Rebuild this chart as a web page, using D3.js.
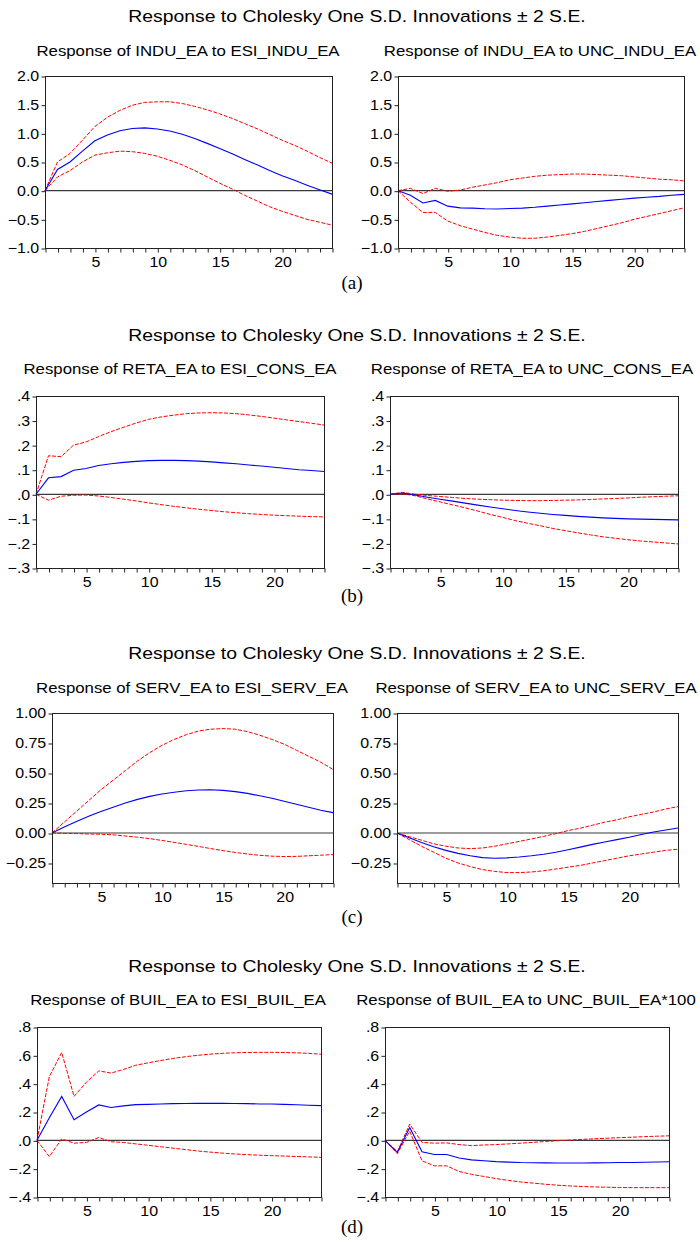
<!DOCTYPE html>
<html><head><meta charset="utf-8">
<script src="https://cdn.jsdelivr.net/npm/d3@7"></script>
<style>body{margin:0;background:#fff}svg{display:block}</style>
</head><body>
<script>
// ---------- DATA ----------
const horizons = d3.range(1, 25);
const xTickLabels = [5, 10, 15, 20];
const mainTitle = "Response to Cholesky One S.D. Innovations \u00b1 2 S.E.";
const captions = ["(a)", "(b)", "(c)", "(d)"];
const subtitles = [
  "Response of INDU_EA to ESI_INDU_EA", "Response of INDU_EA to UNC_INDU_EA",
  "Response of RETA_EA to ESI_CONS_EA", "Response of RETA_EA to UNC_CONS_EA",
  "Response of SERV_EA to ESI_SERV_EA", "Response of SERV_EA to UNC_SERV_EA",
  "Response of BUIL_EA to ESI_BUIL_EA", "Response of BUIL_EA to UNC_BUIL_EA*100"
];
const yTicksA = [-1.0, -0.5, 0.0, 0.5, 1.0, 1.5, 2.0];
const yTicksB = [-0.3, -0.2, -0.1, 0.0, 0.1, 0.2, 0.3, 0.4];
const yTicksC = [-0.25, 0.0, 0.25, 0.5, 0.75, 1.0];
const yTicksD = [-0.4, -0.2, 0.0, 0.2, 0.4, 0.6, 0.8];

// (a) INDU_EA to ESI_INDU_EA
const aL_irf = [0,0.37,0.5,0.69,0.87,0.97,1.045,1.085,1.095,1.075,1.04,0.985,0.91,0.825,0.735,0.645,0.545,0.45,0.35,0.26,0.18,0.095,0.015,-0.06];
const aL_up  = [0,0.5,0.65,0.88,1.12,1.28,1.4,1.49,1.54,1.55,1.55,1.52,1.47,1.41,1.34,1.26,1.17,1.08,0.98,0.88,0.79,0.69,0.58,0.48];
const aL_lo  = [0,0.24,0.35,0.5,0.62,0.66,0.69,0.68,0.65,0.6,0.53,0.45,0.35,0.24,0.13,0.03,-0.08,-0.18,-0.28,-0.36,-0.43,-0.5,-0.55,-0.6];
// (a) INDU_EA to UNC_INDU_EA
const aR_irf = [0,-0.08,-0.215,-0.17,-0.27,-0.3,-0.305,-0.315,-0.32,-0.31,-0.305,-0.29,-0.27,-0.25,-0.23,-0.21,-0.19,-0.17,-0.15,-0.13,-0.115,-0.1,-0.08,-0.065];
const aR_up  = [0,0.04,-0.05,0.04,-0.01,0.01,0.06,0.1,0.14,0.19,0.22,0.25,0.27,0.28,0.29,0.29,0.28,0.27,0.26,0.24,0.22,0.2,0.19,0.17];
const aR_lo  = [0,-0.2,-0.38,-0.38,-0.53,-0.61,-0.67,-0.73,-0.78,-0.81,-0.83,-0.83,-0.81,-0.78,-0.75,-0.71,-0.66,-0.61,-0.56,-0.5,-0.45,-0.4,-0.35,-0.3];
// (b) RETA_EA to ESI_CONS_EA
const bL_irf = [0,0.067,0.072,0.098,0.105,0.117,0.124,0.13,0.134,0.137,0.138,0.138,0.137,0.135,0.132,0.128,0.124,0.119,0.115,0.11,0.105,0.1,0.097,0.093];
const bL_up  = [0,0.157,0.153,0.2,0.213,0.235,0.255,0.273,0.29,0.305,0.315,0.322,0.328,0.331,0.332,0.331,0.328,0.323,0.317,0.31,0.303,0.296,0.289,0.282];
const bL_lo  = [0,-0.024,-0.008,-0.004,-0.003,-0.007,-0.013,-0.02,-0.027,-0.035,-0.042,-0.049,-0.055,-0.061,-0.066,-0.071,-0.075,-0.079,-0.082,-0.085,-0.087,-0.089,-0.091,-0.092];
// (b) RETA_EA to UNC_CONS_EA
const bR_irf = [0,0.005,-0.003,-0.012,-0.02,-0.028,-0.036,-0.044,-0.052,-0.059,-0.066,-0.072,-0.077,-0.082,-0.086,-0.09,-0.093,-0.096,-0.098,-0.1,-0.101,-0.102,-0.103,-0.104];
const bR_up  = [0,0.008,0.0,-0.005,-0.009,-0.013,-0.017,-0.02,-0.022,-0.024,-0.025,-0.026,-0.026,-0.025,-0.024,-0.023,-0.021,-0.019,-0.017,-0.015,-0.012,-0.01,-0.008,-0.006];
const bR_lo  = [0,0.002,-0.006,-0.019,-0.031,-0.043,-0.055,-0.068,-0.082,-0.094,-0.107,-0.118,-0.128,-0.139,-0.148,-0.157,-0.165,-0.173,-0.179,-0.185,-0.19,-0.194,-0.198,-0.202];
// (c) SERV_EA to ESI_SERV_EA
const cL_irf = [0,0.05,0.095,0.14,0.18,0.215,0.25,0.28,0.305,0.325,0.34,0.352,0.358,0.36,0.355,0.345,0.33,0.31,0.29,0.265,0.24,0.215,0.19,0.17];
const cL_up  = [0,0.09,0.18,0.27,0.36,0.44,0.52,0.6,0.67,0.73,0.78,0.82,0.85,0.865,0.87,0.865,0.845,0.815,0.78,0.74,0.69,0.64,0.59,0.53];
const cL_lo  = [0,-0.003,-0.005,-0.008,-0.01,-0.015,-0.025,-0.035,-0.047,-0.062,-0.078,-0.095,-0.112,-0.13,-0.147,-0.162,-0.175,-0.186,-0.193,-0.196,-0.195,-0.19,-0.185,-0.18];
// (c) SERV_EA to UNC_SERV_EA
const cR_irf = [0,-0.04,-0.08,-0.115,-0.145,-0.17,-0.19,-0.205,-0.21,-0.207,-0.2,-0.19,-0.177,-0.16,-0.14,-0.118,-0.095,-0.075,-0.055,-0.035,-0.012,0.008,0.025,0.042];
const cR_up  = [0,-0.03,-0.06,-0.09,-0.11,-0.125,-0.13,-0.125,-0.11,-0.09,-0.07,-0.05,-0.028,-0.005,0.02,0.04,0.065,0.09,0.11,0.135,0.155,0.175,0.2,0.22];
const cR_lo  = [0,-0.055,-0.11,-0.16,-0.21,-0.25,-0.28,-0.305,-0.32,-0.33,-0.33,-0.325,-0.315,-0.3,-0.285,-0.27,-0.25,-0.23,-0.21,-0.19,-0.175,-0.16,-0.145,-0.135];
// (d) BUIL_EA to ESI_BUIL_EA
const dL_irf = [0,0.16,0.31,0.145,0.2,0.25,0.232,0.243,0.252,0.254,0.257,0.259,0.26,0.261,0.261,0.261,0.26,0.259,0.257,0.256,0.254,0.251,0.248,0.245];
const dL_up  = [0,0.45,0.62,0.31,0.41,0.49,0.475,0.5,0.53,0.547,0.563,0.578,0.59,0.6,0.608,0.614,0.618,0.62,0.621,0.621,0.62,0.618,0.614,0.608];
const dL_lo  = [0,-0.115,0.01,-0.02,-0.015,0.02,-0.01,-0.015,-0.025,-0.035,-0.045,-0.055,-0.065,-0.075,-0.083,-0.09,-0.096,-0.101,-0.105,-0.108,-0.111,-0.114,-0.117,-0.12];
// (d) BUIL_EA to UNC_BUIL_EA*100
const dR_irf = [0,-0.085,0.09,-0.08,-0.1,-0.1,-0.125,-0.138,-0.144,-0.15,-0.154,-0.157,-0.158,-0.159,-0.16,-0.16,-0.16,-0.159,-0.158,-0.157,-0.156,-0.155,-0.153,-0.151];
const dR_up  = [0,-0.08,0.115,-0.015,-0.02,-0.018,-0.03,-0.037,-0.033,-0.03,-0.025,-0.02,-0.014,-0.008,-0.003,0.002,0.007,0.011,0.015,0.019,0.022,0.026,0.029,0.032];
const dR_lo  = [0,-0.095,0.065,-0.145,-0.18,-0.18,-0.22,-0.24,-0.255,-0.27,-0.283,-0.294,-0.302,-0.31,-0.317,-0.322,-0.326,-0.329,-0.331,-0.333,-0.334,-0.334,-0.334,-0.334];

// ---------- LAYOUT ----------
const W = 700, H = 1247;
const SANS = "'Liberation Sans', Arial, Helvetica, sans-serif";
const SERIF = "'Liberation Serif', 'Times New Roman', serif";
const fmt1 = d3.format(".1f");
const fmtNoLead = d => { const s = d3.format(".1f")(d); return s.replace("0.", ".").replace("-.0", ".0"); };
const fmt2 = d3.format(".2f");

const groups = [
  {titleY: 21.5, capY: 289, sub: [[188, 55.5], [540, 55.5]], frames: [[45,76,332,248],[398,76,684,248]], dom: [-1, 2], ticks: yTicksA, fmt: fmt1,
   series: [[aL_irf, aL_up, aL_lo], [aR_irf, aR_up, aR_lo]]},
  {titleY: 340.5, capY: 602, sub: [[180, 373.5], [532, 373.5]], frames: [[36,396,324,568],[390,396,678,568]], dom: [-0.3, 0.4], ticks: yTicksB, fmt: fmtNoLead,
   series: [[bL_irf, bL_up, bL_lo], [bR_irf, bR_up, bR_lo]]},
  {titleY: 659, capY: 923, sub: [[192, 692.5], [536, 692.5]], frames: [[52,713,333,883],[397,713,678,883]], dom: [-0.4167, 1.0], ticks: yTicksC, fmt: fmt2,
   series: [[cL_irf, cL_up, cL_lo], [cR_irf, cR_up, cR_lo]]},
  {titleY: 972, capY: 1233, sub: [[178, 1005], [526, 1005]], frames: [[37,1027,321,1197],[385,1027,669,1197]], dom: [-0.4, 0.8], ticks: yTicksD, fmt: fmtNoLead,
   series: [[dL_irf, dL_up, dL_lo], [dR_irf, dR_up, dR_lo]]}
];

const svg = d3.select("body").append("svg").attr("width", W).attr("height", H);
svg.append("rect").attr("width", W).attr("height", H).attr("fill", "#fff");

// text widened horizontally (the reference glyphs are wider than Arial)
function wideText(parent, x, y, k, size, str, anchor) {
  return parent.append("text").attr("transform", `translate(${x},${y}) scale(${k},1)`)
    .attr("text-anchor", anchor || "middle").attr("font-family", SANS).attr("font-size", size)
    .attr("fill", "#000").text(str);
}

groups.forEach((gcfg, gi) => {
  wideText(svg, 357, gcfg.titleY, 1.14, 17, mainTitle);
  svg.append("text").attr("x", 352).attr("y", gcfg.capY).attr("text-anchor", "middle")
    .attr("font-family", SERIF).attr("font-size", 19).attr("fill", "#000").text(captions[gi]);

  gcfg.frames.forEach((fr, pi) => {
    const [x0, y0, x1, y1] = fr;
    const [irf, up, lo] = gcfg.series[pi];
    const x = d3.scaleLinear().domain([1, 24]).range([x0, x1]);
    const y = d3.scaleLinear().domain(gcfg.dom).range([y1, y0]);
    const g = svg.append("g");

    wideText(g, gcfg.sub[pi][0], gcfg.sub[pi][1], 1.12, 15, subtitles[gi * 2 + pi]);

    g.append("line").attr("x1", x(1)).attr("x2", x(24)).attr("y1", y(0)).attr("y2", y(0))
      .attr("stroke", "#3a3a3a").attr("stroke-width", 1.2);

    const line = d3.line().x((d, i) => x(horizons[i])).y(d => y(d));
    [up, lo].forEach(s => g.append("path").attr("d", line(s)).attr("fill", "none")
      .attr("stroke", "#ff0000").attr("stroke-width", 1).attr("stroke-dasharray", "4,1.5"));
    g.append("path").attr("d", line(irf)).attr("fill", "none").attr("stroke", "#0000ff").attr("stroke-width", 1.1);

    g.append("rect").attr("x", x0 + 0.5).attr("y", y0 + 0.5).attr("width", x1 - x0).attr("height", y1 - y0)
      .attr("fill", "none").attr("stroke", "#222").attr("stroke-width", 1);

    const ya = g.append("g").attr("transform", `translate(${x0 + 0.5},0.5)`)
      .call(d3.axisLeft(y).tickValues(gcfg.ticks).tickFormat(gcfg.fmt).tickSize(4).tickPadding(1.5));
    ya.select(".domain").remove();
    ya.selectAll("line").attr("stroke", "#222");
    ya.selectAll("text").attr("font-family", SANS).attr("font-size", 14).attr("fill", "#000")
      .attr("transform", "scale(1.14,1)");

    const xa = g.append("g").attr("transform", `translate(0.5,${y1 + 0.5})`)
      .call(d3.axisBottom(x).tickValues(horizons).tickFormat(d => xTickLabels.includes(d) ? d : "").tickSize(4).tickPadding(5));
    xa.select(".domain").remove();
    xa.selectAll("line").attr("stroke", "#222");
    xa.selectAll("text").attr("font-family", SANS).attr("font-size", 14).attr("fill", "#000")
      .attr("transform", "scale(1.14,1)");
  });
});
</script>
</body></html>
